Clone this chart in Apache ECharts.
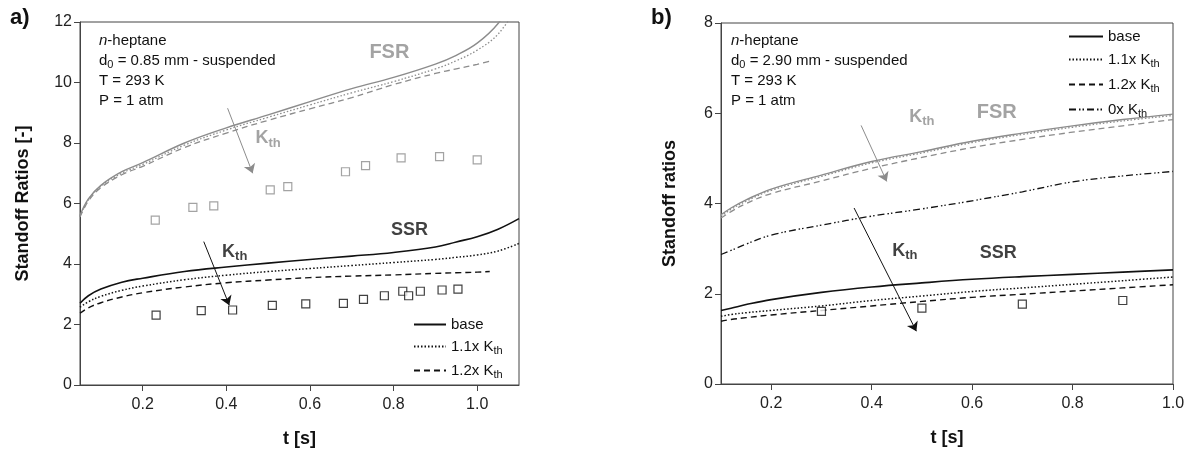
<!DOCTYPE html>
<html><head><meta charset="utf-8">
<script src="https://cdn.jsdelivr.net/npm/echarts@6/dist/echarts.min.js"></script>
<style>html,body{margin:0;padding:0;background:#fff}#c{width:1197px;height:453px}</style>
</head><body><div id="c"></div>
<script>
// ---------- Panel a) data ----------
const tA   = [0.05,0.07,0.1,0.15,0.2,0.3,0.4,0.5,0.6,0.7,0.8,0.9,0.95,1.0,1.05,1.1];
const tA12 = [0.05,0.07,0.1,0.15,0.2,0.3,0.4,0.5,0.6,0.7,0.8,0.9,0.95,1.0,1.03];
const fsrBaseA = [5.6,6.15,6.6,7.05,7.35,8.0,8.5,8.93,9.37,9.8,10.17,10.61,10.9,11.3,11.95,13.0];
const fsr11A   = [5.58,6.12,6.57,7.0,7.29,7.93,8.43,8.85,9.26,9.66,10.03,10.45,10.72,11.07,11.6,12.6];
const fsr12A   = [5.55,6.08,6.52,6.95,7.23,7.85,8.33,8.75,9.13,9.5,9.93,10.3,10.45,10.6,10.7];
const ssrBaseA = [2.7,2.95,3.17,3.4,3.53,3.75,3.9,4.03,4.15,4.26,4.38,4.56,4.73,4.9,5.15,5.5];
const ssr11A   = [2.57,2.75,2.93,3.13,3.27,3.48,3.63,3.75,3.85,3.95,4.05,4.15,4.22,4.3,4.43,4.68];
const ssr12A   = [2.37,2.55,2.72,2.91,3.05,3.24,3.38,3.47,3.55,3.6,3.64,3.69,3.71,3.73,3.75];
const expFsrTA = [0.23,0.32,0.37,0.505,0.547,0.685,0.733,0.818,0.91,1.0];
const expFsrA  = [5.45,5.87,5.92,6.45,6.56,7.05,7.25,7.51,7.55,7.44];
const expSsrTA = [0.232,0.34,0.415,0.51,0.59,0.68,0.728,0.778,0.822,0.836,0.864,0.916,0.954];
const expSsrA  = [2.31,2.46,2.48,2.63,2.68,2.70,2.83,2.95,3.1,2.95,3.1,3.14,3.17];

// ---------- Panel b) data ----------
const tB = [0.1,0.12,0.15,0.2,0.3,0.4,0.5,0.6,0.7,0.8,0.9,1.0];
const fsrBaseB = [3.75,3.9,4.08,4.32,4.63,4.93,5.15,5.38,5.56,5.72,5.86,5.98];
const fsr11B   = [3.72,3.87,4.05,4.29,4.6,4.9,5.12,5.35,5.53,5.69,5.83,5.95];
const fsr12B   = [3.68,3.82,4.0,4.22,4.5,4.78,5.02,5.24,5.42,5.58,5.72,5.86];
const ssrBaseB = [1.63,1.68,1.76,1.87,2.03,2.15,2.24,2.32,2.38,2.43,2.48,2.53];
const ssr11B   = [1.5,1.54,1.58,1.63,1.73,1.85,1.95,2.05,2.13,2.21,2.29,2.37];
const ssr12B   = [1.39,1.43,1.47,1.53,1.63,1.73,1.83,1.92,1.99,2.06,2.13,2.2];
const zeroB    = [2.87,2.96,3.1,3.3,3.52,3.72,3.88,4.06,4.26,4.48,4.61,4.71];
const expSsrTB = [0.3,0.5,0.7,0.9];
const expSsrB  = [1.61,1.68,1.77,1.85];

// ---------- tick labels ----------
const xTicksA = [0.2,0.4,0.6,0.8,1.0];
const xTicksB = [0.2,0.4,0.6,0.8,1.0];

const FONT = '"Liberation Sans", Arial, Helvetica, sans-serif';
const GRAY = '#8c8c8c';
const BLACK = '#111';
const AX = '#444';
const pts = (t, v) => t.map((x, i) => [x, v[i]]);

const subRich = (size, color, bold) => ({
  m: {fontSize: size, color, fontFamily: FONT, fontWeight: bold ? 'bold' : 'normal', lineHeight: size + 4},
  s: {fontSize: Math.round(size * 0.7), color, fontFamily: FONT, fontWeight: bold ? 'bold' : 'normal', lineHeight: Math.round(size * 0.7) + 1, verticalAlign: 'bottom'},
  i: {fontSize: size, color, fontFamily: FONT, fontStyle: 'italic', lineHeight: size + 4}
});

function lineSeries(name, gi, t, v, color, type, width) {
  return {
    name, type: 'line', xAxisIndex: gi, yAxisIndex: gi, data: pts(t, v),
    smooth: 0.4, symbol: 'none', showSymbol: false, clip: true,
    lineStyle: {color, type, width}, itemStyle: {color}, z: 3, silent: true
  };
}
function expSeries(name, gi, t, v, color) {
  return {
    name, type: 'scatter', xAxisIndex: gi, yAxisIndex: gi, data: pts(t, v),
    symbol: 'rect', symbolSize: 8,
    itemStyle: {color: '#fff', borderColor: color, borderWidth: 1.2}, z: 4, silent: true
  };
}
const DASH = [6, 4];
const DOT = [1.5, 2];
const DASHDOT = [7, 3, 1.5, 2, 1.5, 3];

function annot(gi, texts, arrows) {
  return {
    name: 'annot' + gi, type: 'scatter', xAxisIndex: gi, yAxisIndex: gi, symbolSize: 0, silent: true, z: 5,
    data: texts.map(a => ({
      value: [a.t, a.y],
      label: {show: true, position: 'inside', formatter: a.text, rich: subRich(a.size, a.color, true)}
    })),
    markLine: {
      silent: true, animation: false, symbol: ['none', 'arrow'], symbolSize: 9,
      label: {show: false},
      data: arrows.map(a => [
        {coord: a.from, lineStyle: {color: a.color, width: 1, type: 'solid'}, itemStyle: {color: a.color}},
        {coord: a.to}
      ])
    }
  };
}

const chart = echarts.init(document.getElementById('c'), null, {renderer: 'canvas'});

function xAxis(gi, min, max, ticks) {
  return {
    type: 'value', gridIndex: gi, min, max,
    name: 't [s]', nameLocation: 'middle', nameGap: 45,
    nameTextStyle: {fontFamily: FONT, fontSize: 18, fontWeight: 'bold', color: BLACK},
    axisLine: {show: true, lineStyle: {color: AX, width: 1}},
    axisTick: {show: true, customValues: ticks, length: 6, inside: false, lineStyle: {color: AX}},
    axisLabel: {customValues: ticks, formatter: v => v.toFixed(1), fontFamily: FONT, fontSize: 16, color: '#222', margin: 12},
    splitLine: {show: false}
  };
}
function yAxis(gi, max, name, gap) {
  return {
    type: 'value', gridIndex: gi, min: 0, max, interval: 2,
    name, nameLocation: 'middle', nameGap: gap, nameRotate: 90,
    nameTextStyle: {fontFamily: FONT, fontSize: 18, fontWeight: 'bold', color: BLACK},
    axisLine: {show: true, lineStyle: {color: AX, width: 1}},
    axisTick: {show: true, length: 6, inside: false, lineStyle: {color: AX}},
    axisLabel: {fontFamily: FONT, fontSize: 16, color: '#222', margin: 8},
    splitLine: {show: false}
  };
}

const legendFmt = n => {
  const m = n.match(/^(.*)Kth$/);
  return m ? '{m|' + m[1] + 'K}{s|th}' : '{m|' + n + '}';
};
const legendCommon = {
  orient: 'vertical', formatter: legendFmt, selectedMode: false,
  itemStyle: {opacity: 0, borderWidth: 0},
  textStyle: {fontFamily: FONT, fontSize: 15, color: BLACK, rich: subRich(15, BLACK, false)}
};

const option = {
  animation: false,
  backgroundColor: '#fff',
  grid: [
    {left: 80, top: 22, width: 439, height: 363, show: true, borderColor: AX, borderWidth: 1, backgroundColor: 'transparent'},
    {left: 721, top: 23, width: 452, height: 361, show: true, borderColor: AX, borderWidth: 1, backgroundColor: 'transparent'}
  ],
  xAxis: [xAxis(0, 0.05, 1.1, xTicksA), xAxis(1, 0.1, 1.0, xTicksB)],
  yAxis: [yAxis(0, 12, 'Standoff Ratios [-]', 48), yAxis(1, 8, 'Standoff ratios', 42)],
  legend: [
    Object.assign({data: ['base', '1.1x Kth', '1.2x Kth'], left: 408, top: 312,
     itemWidth: 32, itemHeight: 14, itemGap: 7}, legendCommon),
    Object.assign({data: ['base', '1.1x Kth', '1.2x Kth', '0x Kth'], left: 1063, top: 24,
     itemWidth: 34, itemHeight: 14, itemGap: 8}, legendCommon)
  ],
  graphic: [
    {type: 'text', left: 10, top: 7, style: {text: 'a)', font: 'bold 22px ' + FONT, fill: BLACK}},
    {type: 'text', left: 651, top: 7, style: {text: 'b)', font: 'bold 22px ' + FONT, fill: BLACK}},
    {type: 'text', left: 99, top: 33, style: {
      text: '{i|n}{m|-heptane}\n{m|d}{s|0}{m| = 0.85 mm - suspended}\n{m|T = 293 K}\n{m|P = 1 atm}',
      rich: {
        m: {fontSize: 15, fontFamily: FONT, fill: BLACK, lineHeight: 20},
        i: {fontSize: 15, fontFamily: FONT, fontStyle: 'italic', fill: BLACK, lineHeight: 20},
        s: {fontSize: 11, fontFamily: FONT, fill: BLACK, lineHeight: 13, verticalAlign: 'bottom'}
      }}},
    {type: 'text', left: 731, top: 33, style: {
      text: '{i|n}{m|-heptane}\n{m|d}{s|0}{m| = 2.90 mm - suspended}\n{m|T = 293 K}\n{m|P = 1 atm}',
      rich: {
        m: {fontSize: 15, fontFamily: FONT, fill: BLACK, lineHeight: 20},
        i: {fontSize: 15, fontFamily: FONT, fontStyle: 'italic', fill: BLACK, lineHeight: 20},
        s: {fontSize: 11, fontFamily: FONT, fill: BLACK, lineHeight: 13, verticalAlign: 'bottom'}
      }}}
  ],
  series: [
    // panel a
    lineSeries('fsrA', 0, tA, fsrBaseA, GRAY, 'solid', 1.4),
    lineSeries('fsrA11', 0, tA, fsr11A, GRAY, DOT, 1.3),
    lineSeries('fsrA12', 0, tA12, fsr12A, GRAY, DASH, 1.3),
    lineSeries('base', 0, tA, ssrBaseA, BLACK, 'solid', 1.6),
    lineSeries('1.1x Kth', 0, tA, ssr11A, BLACK, DOT, 1.5),
    lineSeries('1.2x Kth', 0, tA12, ssr12A, BLACK, DASH, 1.4),
    expSeries('expFsrA', 0, expFsrTA, expFsrA, GRAY),
    expSeries('expSsrA', 0, expSsrTA, expSsrA, BLACK),
    annot(0, [
      {t: 0.79, y: 10.98, text: '{m|FSR}', size: 20, color: GRAY},
      {t: 0.50, y: 8.15, text: '{m|K}{s|th}', size: 18, color: GRAY},
      {t: 0.838, y: 5.12, text: '{m|SSR}', size: 18, color: BLACK},
      {t: 0.42, y: 4.4, text: '{m|K}{s|th}', size: 18, color: BLACK}
    ], [
      {from: [0.403, 9.15], to: [0.463, 7.0], color: GRAY},
      {from: [0.346, 4.74], to: [0.407, 2.64], color: BLACK}
    ]),
    // panel b
    lineSeries('fsrB', 1, tB, fsrBaseB, GRAY, 'solid', 1.4),
    lineSeries('fsrB11', 1, tB, fsr11B, GRAY, DOT, 1.3),
    lineSeries('fsrB12', 1, tB, fsr12B, GRAY, DASH, 1.3),
    lineSeries('0x Kth', 1, tB, zeroB, BLACK, DASHDOT, 1.3),
    lineSeries('base', 1, tB, ssrBaseB, BLACK, 'solid', 1.6),
    lineSeries('1.1x Kth', 1, tB, ssr11B, BLACK, DOT, 1.5),
    lineSeries('1.2x Kth', 1, tB, ssr12B, BLACK, DASH, 1.4),
    expSeries('expSsrB', 1, expSsrTB, expSsrB, BLACK),
    annot(1, [
      {t: 0.649, y: 6.01, text: '{m|FSR}', size: 20, color: GRAY},
      {t: 0.50, y: 5.92, text: '{m|K}{s|th}', size: 18, color: GRAY},
      {t: 0.652, y: 2.9, text: '{m|SSR}', size: 18, color: BLACK},
      {t: 0.466, y: 2.94, text: '{m|K}{s|th}', size: 18, color: BLACK}
    ], [
      {from: [0.379, 5.73], to: [0.43, 4.49], color: GRAY},
      {from: [0.365, 3.9], to: [0.489, 1.17], color: BLACK}
    ])
  ]
};
chart.setOption(option);
</script></body></html>
